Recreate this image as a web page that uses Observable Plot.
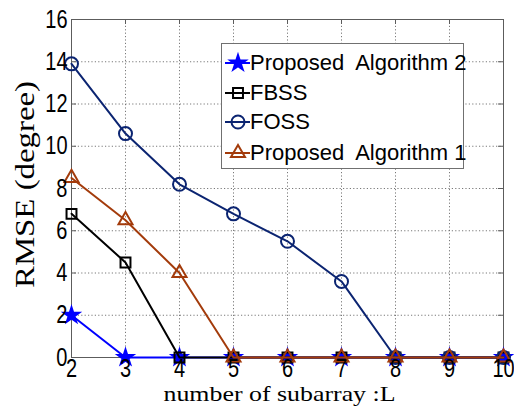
<!DOCTYPE html>
<html><head><meta charset="utf-8">
<script src="https://cdn.jsdelivr.net/npm/d3@7"></script>
<script src="https://cdn.jsdelivr.net/npm/@observablehq/plot@0.6"></script>
<style>
body{margin:0;background:#fff;}
#wrap{position:relative;width:514px;height:406px;overflow:hidden;}
#legend{position:absolute;left:221px;top:43px;width:241px;height:124px;border:1px solid #707070;background:#fff;}
.row{position:absolute;left:0;height:30px;display:flex;align-items:center;font-family:"Liberation Sans",Arial,sans-serif;font-size:22px;white-space:pre;color:#000;}
.row svg{display:block;margin-left:2px;margin-right:0px;}
</style></head><body><div id="wrap"></div>
<script>
const subarrays = [2, 3, 4, 5, 6, 7, 8, 9, 10];
const alg2 = [2, 0, 0, 0, 0, 0, 0, 0, 0];
const fbss = [6.8, 4.5, 0, 0, 0, 0, 0, 0, 0];
const foss = [13.9, 10.6, 8.2, 6.8, 5.5, 3.6, 0, 0, 0];
const alg1 = [8.5, 6.5, 4.0, 0, 0, 0, 0, 0, 0];
const seriesNames = ["Proposed  Algorithm 2", "FBSS", "FOSS", "Proposed  Algorithm 1"];
const seriesColors = ["#0000ff", "#000000", "#0b2471", "#a33b0b"];
const seriesSymbols = ["star", "square", "circle", "triangle"];
const seriesR = [4.8, 5.6, 6.5, 5.2];
const xTicks = [2, 3, 4, 5, 6, 7, 8, 9, 10];
const yTicks = [0, 2, 4, 6, 8, 10, 12, 14, 16];
const xLabel = "number of subarray :L";
const yLabel = "RMSE (degree)";

const allValues = [alg2, fbss, foss, alg1];
const series = allValues.map((vals, s) => subarrays.map((x, i) => ({x, y: vals[i], s})));

const W = 514, H = 406, mL = 71, mR = 11, mT = 19, mB = 49;
const pw = W - mL - mR, ph = H - mT - mB;
const gridStyle = {stroke: "#6a6a6a", strokeOpacity: 1, strokeWidth: 0.9, strokeDasharray: "1.2,2.2"};
const frameColor = "#5c5c5c";

const marks = [
  Plot.gridX(xTicks.slice(1, -1), gridStyle),
  Plot.gridY(yTicks.slice(1, -1), gridStyle),
  Plot.tickY(yTicks, {y: d => d, insetRight: pw - 5, stroke: frameColor}),
  Plot.tickY(yTicks, {y: d => d, insetLeft: pw - 5, stroke: frameColor}),
  Plot.tickX(xTicks, {x: d => d, insetTop: ph - 5, stroke: frameColor}),
  Plot.tickX(xTicks, {x: d => d, insetBottom: ph - 5, stroke: frameColor}),
  Plot.frame({stroke: frameColor, strokeWidth: 1})
];
series.forEach((data, s) => {
  marks.push(Plot.line(data, {x: "x", y: "y", stroke: seriesColors[s], strokeWidth: 2}));
  marks.push(Plot.dot(data, {x: "x", y: "y", symbol: () => seriesSymbols[s], r: seriesR[s],
    stroke: seriesColors[s], strokeWidth: 2, fill: s === 0 ? seriesColors[s] : "none"}));
});
marks.push(
  Plot.axisX(xTicks, {tickSize: 0, tickPadding: 2, fontSize: 25, fontFamily: "Liberation Sans, Arial, sans-serif", fill: "#000", label: null}),
  Plot.axisY(yTicks, {tickSize: 0, tickPadding: 4, fontSize: 25, fontFamily: "Liberation Sans, Arial, sans-serif", fill: "#000", label: null}),
  Plot.text([yLabel], {text: d => d, frameAnchor: "left", dx: -46, dy: -4, rotate: -90, fontSize: 27, textAnchor: "middle",
    fontFamily: "Liberation Serif, Times New Roman, serif", fill: "#000", lineAnchor: "middle"}),
  Plot.text([xLabel], {text: d => d, frameAnchor: "bottom", dx: -8, dy: 37, fontSize: 21, textAnchor: "middle",
    fontFamily: "Liberation Serif, Times New Roman, serif", fill: "#000", lineAnchor: "middle"})
);

const chart = Plot.plot({
  width: W, height: H,
  marginLeft: mL, marginRight: mR, marginTop: mT, marginBottom: mB,
  x: {domain: [2, 10]},
  y: {domain: [0, 16]},
  style: {background: "#fff", overflow: "visible"},
  marks
});
const wrap = document.getElementById("wrap");
wrap.appendChild(chart);

// narrow, tall tick digits and stretched axis titles as in the reference
d3.select(chart).selectAll("text").each(function() {
  const p = this.parentNode;
  const al = (p && p.getAttribute && p.getAttribute("aria-label")) || "";
  const txt = this.textContent;
  if (/tick label/.test(al)) {
    const tr = this.getAttribute("transform") || "";
    this.setAttribute("transform", tr + " scale(0.8,1)");
  } else if (txt === yLabel) {
    this.setAttribute("textLength", 207);
    this.setAttribute("lengthAdjust", "spacingAndGlyphs");
  } else if (txt === xLabel) {
    this.setAttribute("textLength", 232);
    this.setAttribute("lengthAdjust", "spacingAndGlyphs");
  }
});

// legend
const legend = document.createElement("div");
legend.id = "legend";
const centers = [18.5, 48.5, 77.5, 108.5];
const symMap = {star: d3.symbolStar, square: d3.symbolSquare, circle: d3.symbolCircle, triangle: d3.symbolTriangle};
seriesNames.forEach((name, s) => {
  const row = document.createElement("div");
  row.className = "row";
  row.style.top = (centers[s] - 15) + "px";
  const sw = d3.create("svg").attr("width", 26).attr("height", 30);
  sw.append("line").attr("x1", 1).attr("x2", 27).attr("y1", 15).attr("y2", 15)
    .attr("stroke", seriesColors[s]).attr("stroke-width", 2);
  const r = seriesR[s];
  sw.append("path").attr("transform", "translate(14,15)")
    .attr("d", d3.symbol(symMap[seriesSymbols[s]], Math.PI * r * r)())
    .attr("stroke", seriesColors[s]).attr("stroke-width", 2)
    .attr("fill", s === 0 ? seriesColors[s] : "none");
  row.appendChild(sw.node());
  const t = document.createElement("span");
  t.textContent = name;
  row.appendChild(t);
  legend.appendChild(row);
});
wrap.appendChild(legend);
</script></body></html>
